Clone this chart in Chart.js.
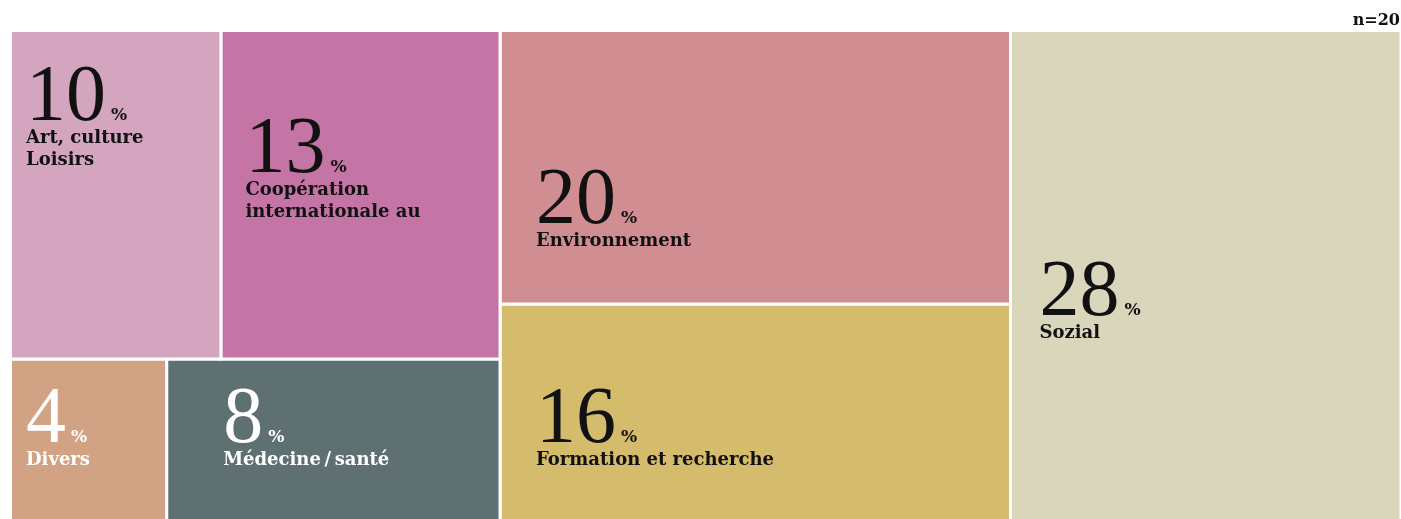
<!DOCTYPE html>
<html>
<head>
<meta charset="utf-8">
<script src="https://cdn.jsdelivr.net/npm/chart.js@4.4.1/dist/chart.umd.min.js"></script>
<style>
html, body { margin: 0; padding: 0; background: #fff; overflow: hidden; }
#wrap { width: 1401px; height: 521px; }
</style>
</head>
<body>
<div id="wrap"><canvas id="treemap"></canvas></div>
<script>
// shares per field (percent)
const categories = ["Art, culture\nLoisirs", "Coopération\ninternationale au", "Divers", "Médecine\u2009/\u2009santé", "Environnement", "Formation et recherche", "Sozial"];
const values = [10.1, 13.4, 3.7, 7.9, 20.4, 16.2, 28.0];
const sampleSize = "n=20";

// treemap grouping: columns -> rows -> category index
const groups = [[[0, 1], [2, 3]], [[4], [5]], [[6]]];
const colors = ["#d3a5be", "#c474a5", "#d2a285", "#5f7073", "#d18e92", "#d5bb6c", "#d9d6bc"];
const textColors = ["#111", "#111", "#fff", "#fff", "#111", "#111", "#111"];
// label anchor (left, first baseline) from cell corner, px
const labelOffsets = [[15.5, 112.5], [24.5, 164.5], [15.5, 106.5], [56.5, 106.5], [36, 215.5], [36, 161], [29, 307.5]];

const sum = a => a.reduce((s, v) => s + v, 0);
const total = sum(values);
const rects = [];
let cx = 0;
groups.forEach(col => {
    const colSum = sum(col.flat().map(i => values[i]));
    const w = colSum / total * 100;
    let cy = 0;
    col.forEach(row => {
        const rowSum = sum(row.map(i => values[i]));
        const h = rowSum / colSum * 100;
        let rx = cx;
        row.forEach(i => {
            const rw = values[i] / rowSum * w;
            rects[i] = { x0: rx, x1: rx + rw, y0: cy, y1: cy + h };
            rx += rw;
        });
        cy += h;
    });
    cx += w;
});

const datasets = rects.map((r, i) => ({
    label: categories[i],
    data: [
        { x: r.x0, y: r.y0 }, { x: r.x1, y: r.y0 },
        { x: r.x1, y: r.y1 }, { x: r.x0, y: r.y1 }, { x: r.x0, y: r.y0 }
    ],
    backgroundColor: colors[i],
    borderColor: "#fff",
    borderWidth: 3,
    fill: "shape",
    pointRadius: 0,
    tension: 0,
    clip: false
}));

const cellLabels = {
    id: "cellLabels",
    afterDatasetsDraw(chart) {
        const { ctx, scales: { x, y } } = chart;
        rects.forEach((r, i) => {
            const left = x.getPixelForValue(r.x0) + labelOffsets[i][0];
            const base = y.getPixelForValue(r.y0) + labelOffsets[i][1];
            const num = String(Math.round(values[i]));
            ctx.save();
            ctx.fillStyle = textColors[i];
            ctx.textBaseline = "alphabetic";
            ctx.font = '80px "Liberation Serif"';
            ctx.fillText(num, left, base - 23);
            const nw = ctx.measureText(num).width;
            ctx.font = 'bold 17px "DejaVu Serif"';
            ctx.fillText("%", left + nw + 5, base - 23);
            ctx.font = 'bold 18px "DejaVu Serif"';
            categories[i].split("\n").forEach((line, k) => ctx.fillText(line, left, base + k * 22));
            ctx.restore();
        });
        ctx.save();
        ctx.fillStyle = "#111";
        ctx.font = 'bold 16px "DejaVu Serif"';
        ctx.textAlign = "right";
        ctx.fillText(sampleSize, 1400, 25);
        ctx.restore();
    }
};

new Chart(document.getElementById("treemap"), {
    type: "line",
    data: { datasets: datasets },
    options: {
        responsive: true,
        maintainAspectRatio: false,
        animation: false,
        events: [],
        layout: { padding: { left: 10.5, top: 30.5, right: 0, bottom: 0 } },
        scales: {
            x: { type: "linear", min: 0, max: 100, display: false },
            y: { type: "linear", min: 0, max: 100, reverse: true, display: false }
        },
        plugins: { legend: { display: false }, tooltip: { enabled: false } }
    },
    plugins: [cellLabels]
});
</script>
</body>
</html>
